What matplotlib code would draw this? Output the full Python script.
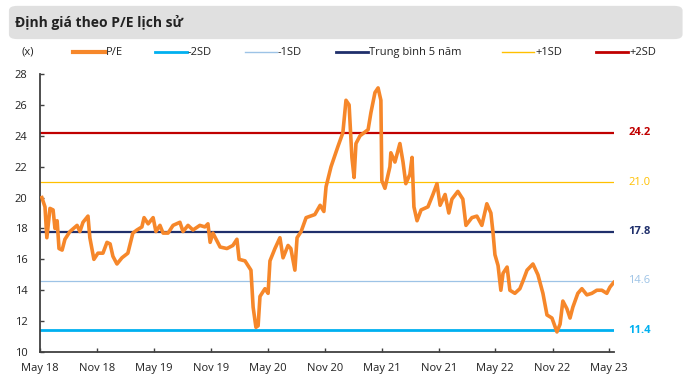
import numpy as np
import pandas as pd
import matplotlib
matplotlib.use("Agg")
import matplotlib.pyplot as plt
from matplotlib.patches import FancyBboxPatch
from matplotlib.transforms import blended_transform_factory

plt.rcParams['font.family'] = ['Open Sans', 'DejaVu Sans']

# P/E history
dates = ['2018-05-07', '2018-05-17', '2018-05-23', '2018-06-02', '2018-06-12', '2018-06-18',
         '2018-06-25', '2018-07-01', '2018-07-11', '2018-07-20', '2018-08-05', '2018-08-28',
         '2018-09-06', '2018-09-16', '2018-10-02', '2018-10-08', '2018-10-21', '2018-11-03',
         '2018-11-19', '2018-12-02', '2018-12-12', '2018-12-21', '2019-01-03', '2019-01-19',
         '2019-02-07', '2019-02-23', '2019-03-08', '2019-03-24', '2019-03-31', '2019-04-13',
         '2019-04-29', '2019-05-08', '2019-05-21', '2019-05-31', '2019-06-16', '2019-07-02',
         '2019-07-24', '2019-08-03', '2019-08-19', '2019-09-04', '2019-09-26', '2019-10-12',
         '2019-10-22', '2019-10-29', '2019-11-07', '2019-11-30', '2019-12-22', '2020-01-10',
         '2020-01-23', '2020-01-30', '2020-02-18', '2020-03-08', '2020-03-15', '2020-03-24',
         '2020-03-31', '2020-04-06', '2020-04-22', '2020-05-02', '2020-05-08', '2020-05-24',
         '2020-06-09', '2020-06-19', '2020-07-05', '2020-07-14', '2020-07-27', '2020-08-03',
         '2020-08-16', '2020-09-01', '2020-09-29', '2020-10-16', '2020-10-28', '2020-11-04',
         '2020-11-20', '2020-12-12', '2020-12-28', '2021-01-07', '2021-01-17', '2021-01-26',
         '2021-02-02', '2021-02-08', '2021-02-21', '2021-03-19', '2021-03-28', '2021-04-10',
         '2021-04-20', '2021-04-29', '2021-05-02', '2021-05-12', '2021-05-28', '2021-05-31',
         '2021-06-13', '2021-06-29', '2021-07-09', '2021-07-18', '2021-07-31', '2021-08-07',
         '2021-08-13', '2021-08-23', '2021-09-05', '2021-09-27', '2021-10-13', '2021-10-26',
         '2021-11-05', '2021-11-21', '2021-12-03', '2021-12-13', '2022-01-01', '2022-01-17',
         '2022-01-27', '2022-02-15', '2022-03-03', '2022-03-19', '2022-04-04', '2022-04-17',
         '2022-04-24', '2022-04-30', '2022-05-10', '2022-05-19', '2022-05-26', '2022-06-08',
         '2022-06-17', '2022-07-03', '2022-07-19', '2022-07-29', '2022-08-11', '2022-08-30',
         '2022-09-15', '2022-10-01', '2022-10-14', '2022-10-30', '2022-11-15', '2022-11-25',
         '2022-12-04', '2022-12-17', '2022-12-27', '2023-01-05', '2023-01-21', '2023-02-03',
         '2023-02-19', '2023-03-07', '2023-03-23', '2023-04-08', '2023-04-24', '2023-05-04',
         '2023-05-16']
pe = [20.0, 19.4, 17.4, 19.3, 19.2, 18.0,
      18.5, 16.7, 16.6, 17.3, 17.8, 18.2,
      17.8, 18.4, 18.8, 17.4, 16.0, 16.4,
      16.4, 17.1, 17.0, 16.2, 15.7, 16.1,
      16.4, 17.7, 17.9, 18.1, 18.7, 18.3,
      18.7, 17.8, 18.2, 17.7, 17.7, 18.2,
      18.4, 17.8, 18.2, 17.9, 18.2, 18.1,
      18.3, 17.1, 17.7, 16.8, 16.7, 16.9,
      17.3, 16.0, 15.9, 15.3, 12.9, 11.6,
      11.7, 13.6, 14.1, 13.8, 15.9, 16.7,
      17.4, 16.1, 16.9, 16.7, 15.3, 17.4,
      17.8, 18.7, 18.9, 19.5, 19.1, 20.7,
      22.0, 23.3, 24.2, 26.3, 26.0, 22.6,
      21.3, 23.5, 24.0, 24.4, 25.5, 26.8,
      27.1, 26.3, 21.1, 20.6, 22.0, 22.9,
      22.3, 23.5, 22.3, 20.9, 21.5, 22.6,
      19.4, 18.5, 19.2, 19.4, 20.2, 20.9,
      19.5, 20.2, 19.0, 19.9, 20.4, 19.9,
      18.2, 18.7, 18.8, 18.2, 19.6, 19.0,
      17.7, 16.3, 15.6, 14.0, 15.1, 15.5,
      14.0, 13.8, 14.1, 14.6, 15.3, 15.7,
      15.0, 13.8, 12.4, 12.2, 11.3, 11.8,
      13.3, 12.8, 12.2, 12.9, 13.8, 14.1,
      13.7, 13.8, 14.0, 14.0, 13.8, 14.2,
      14.5]

band_names = ['-2SD', '-1SD', 'Trung bình 5 năm', '+1SD', '+2SD']
band_values = [11.4, 14.6, 17.8, 21.0, 24.2]
band_colors = ['#00B0F0', '#9DC3E6', '#1F2F6B', '#FFC000', '#C00000']
band_widths = [2.0, 0.9, 1.6, 0.9, 1.6]
label_bold = [True, False, True, False, True]

tick_dates = pd.date_range('2018-05-01', '2023-05-01', freq='6MS')
tick_labels = [d.strftime('%b %y') for d in tick_dates]

fig = plt.figure(figsize=(6.86, 3.91), dpi=100)

# title bar
fig.patches.append(FancyBboxPatch((0.013, 0.9), 0.982, 0.085, boxstyle='round,pad=0,rounding_size=0.012',
                                  transform=fig.transFigure, facecolor='#E0E0E0', edgecolor='none'))
fig.text(0.022, 0.943, 'Định giá theo P/E lịch sử', fontsize=10, fontweight='bold',
         va='center', ha='left', color='#222222')

ax = fig.add_axes([0.0583, 0.0997, 0.8367, 0.711])

x = pd.to_datetime(dates)
for name, val, col, lw in zip(band_names, band_values, band_colors, band_widths):
    ax.axhline(val, color=col, lw=lw, zorder=2)
ax.plot(x, pe, color='#F6872A', lw=2.6, zorder=3, solid_joinstyle='round')

tr = blended_transform_factory(ax.transAxes, ax.transData)
for val, col, b in zip(band_values, band_colors, label_bold):
    ax.text(1.025, val, f'{val:.1f}', transform=tr, color=col, fontsize=8,
            fontweight='bold' if b else 'normal', va='center', ha='left')

ax.set_xlim(pd.Timestamp('2018-05-01'), pd.Timestamp('2023-05-17'))
ax.set_ylim(10, 28)
ax.set_yticks(range(10, 29, 2))
ax.set_xticks(tick_dates)
ax.set_xticklabels(tick_labels)
ax.tick_params(axis='both', direction='in', length=3, width=1, color='#404040',
               labelsize=8, labelcolor='#222222')
ax.tick_params(axis='x', pad=8)
ax.tick_params(axis='y', pad=9)
for s in ['top', 'right']:
    ax.spines[s].set_visible(False)
for s in ['left', 'bottom']:
    ax.spines[s].set_color('#404040')
    ax.spines[s].set_linewidth(1.3)

# legend row
fig.text(0.032, 0.866, '(x)', fontsize=8, va='center', ha='left', color='#222222')
leg_x = [0.106, 0.226, 0.357, 0.49, 0.732, 0.869]
leg_names = ['P/E'] + band_names
leg_colors = ['#F6872A'] + band_colors
leg_widths = [3.0, 2.0, 1.0, 2.0, 1.0, 2.0]
for lx, nm, c, w in zip(leg_x, leg_names, leg_colors, leg_widths):
    fig.add_artist(plt.Line2D([lx, lx + 0.047], [0.866, 0.866], color=c, lw=w,
                              transform=fig.transFigure))
    fig.text(lx + 0.048, 0.866, nm, fontsize=8, va='center', ha='left', color='#222222')

fig.savefig('out.png', dpi=100)
